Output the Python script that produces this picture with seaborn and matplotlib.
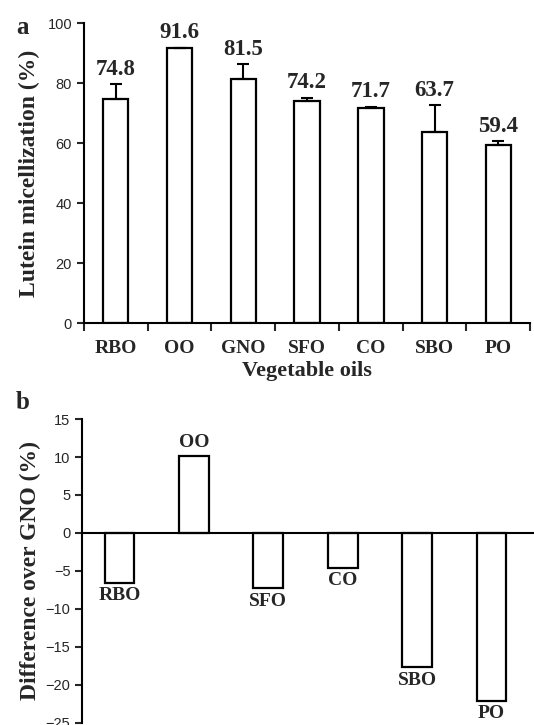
import numpy as np
import pandas as pd
import matplotlib
matplotlib.use('Agg')
import matplotlib.pyplot as plt
import seaborn as sns

# panel a: lutein micellization per oil
oils = ['RBO', 'OO', 'GNO', 'SFO', 'CO', 'SBO', 'PO']
micellization = [74.8, 91.6, 81.5, 74.2, 71.7, 63.7, 59.4]
sd_upper = [5.0, 0.3, 4.8, 1.0, 0.5, 9.0, 1.2]

# panel b: difference over GNO
oils_b = ['RBO', 'OO', 'SFO', 'CO', 'SBO', 'PO']
diff_gno = [-6.6, 10.2, -7.3, -4.6, -17.7, -22.1]

sns.set_style('ticks')
plt.rcParams['font.family'] = ['Liberation Sans', 'DejaVu Sans']
serif = 'Liberation Serif'

fig = plt.figure(figsize=(5.34, 7.25), dpi=100)

# ---- panel a
ax1 = fig.add_axes([0.157, 0.554, 0.836, 0.414])
df_a = pd.DataFrame({'oil': oils, 'val': micellization})
sns.barplot(data=df_a, x='oil', y='val', ax=ax1, color='white', saturation=1,
            edgecolor='black', linewidth=1.6, width=0.4, errorbar=None)
ax1.errorbar(np.arange(len(oils)), micellization,
             yerr=[np.zeros(len(oils)), sd_upper], fmt='none',
             ecolor='black', elinewidth=1.5, capsize=4, capthick=1.5)
for i, (v, e) in enumerate(zip(micellization, sd_upper)):
    ax1.annotate(f'{v:.1f}', (i, v + e), xytext=(0, 3), textcoords='offset points',
                 ha='center', va='bottom', fontfamily=serif, fontweight='bold', fontsize=16.5)

ax1.set_xlim(-0.5, 6.5)
ax1.set_ylim(0, 100)
ax1.set_yticks(np.arange(0, 101, 20))
ax1.set_xticks(np.arange(-0.5, 7, 1), minor=True)
ax1.tick_params(axis='x', which='major', length=0, pad=12)
ax1.tick_params(axis='x', which='minor', length=6, width=1.5, direction='out')
ax1.tick_params(axis='y', length=5, width=1.5, direction='out', labelsize=10.5)
for lab in ax1.get_xticklabels():
    lab.set_fontfamily(serif)
    lab.set_fontweight('bold')
    lab.set_fontsize(14)
ax1.set_xlabel('Vegetable oils', fontfamily=serif, fontweight='bold', fontsize=16, labelpad=3)
ax1.set_ylabel('Lutein micellization (%)', fontfamily=serif, fontweight='bold', fontsize=17, labelpad=5)
sns.despine(ax=ax1)
for s in ['left', 'bottom']:
    ax1.spines[s].set_linewidth(1.5)
    ax1.spines[s].set_color('black')
fig.text(0.042, 0.962, 'a', fontfamily=serif, fontweight='bold', fontsize=18, ha='center', va='center')

# ---- panel b
ax2 = fig.add_axes([0.154, 0.003, 0.846, 0.419])
df_b = pd.DataFrame({'oil': oils_b, 'diff': diff_gno})
sns.barplot(data=df_b, x='oil', y='diff', ax=ax2, color='white', saturation=1,
            edgecolor='black', linewidth=1.6, width=0.4, errorbar=None)
ax2.bar_label(ax2.containers[0], labels=oils_b, padding=3,
              fontfamily=serif, fontweight='bold', fontsize=14)
ax2.set_xlim(-0.5, 5.57)
ax2.set_ylim(-25, 15)
ax2.set_yticks(np.arange(-25, 16, 5))
ax2.set_xticks([])
ax2.set_xlabel('')
ax2.tick_params(axis='y', length=5, width=1.5, direction='out', labelsize=10.5)
ax2.set_ylabel('Difference over GNO (%)', fontfamily=serif, fontweight='bold', fontsize=17, labelpad=3)
sns.despine(ax=ax2)
ax2.spines['bottom'].set_position(('data', 0))
for s in ['left', 'bottom']:
    ax2.spines[s].set_linewidth(1.5)
    ax2.spines[s].set_color('black')
fig.text(0.042, 0.445, 'b', fontfamily=serif, fontweight='bold', fontsize=18, ha='center', va='center')

fig.savefig('out.png', dpi=100)
